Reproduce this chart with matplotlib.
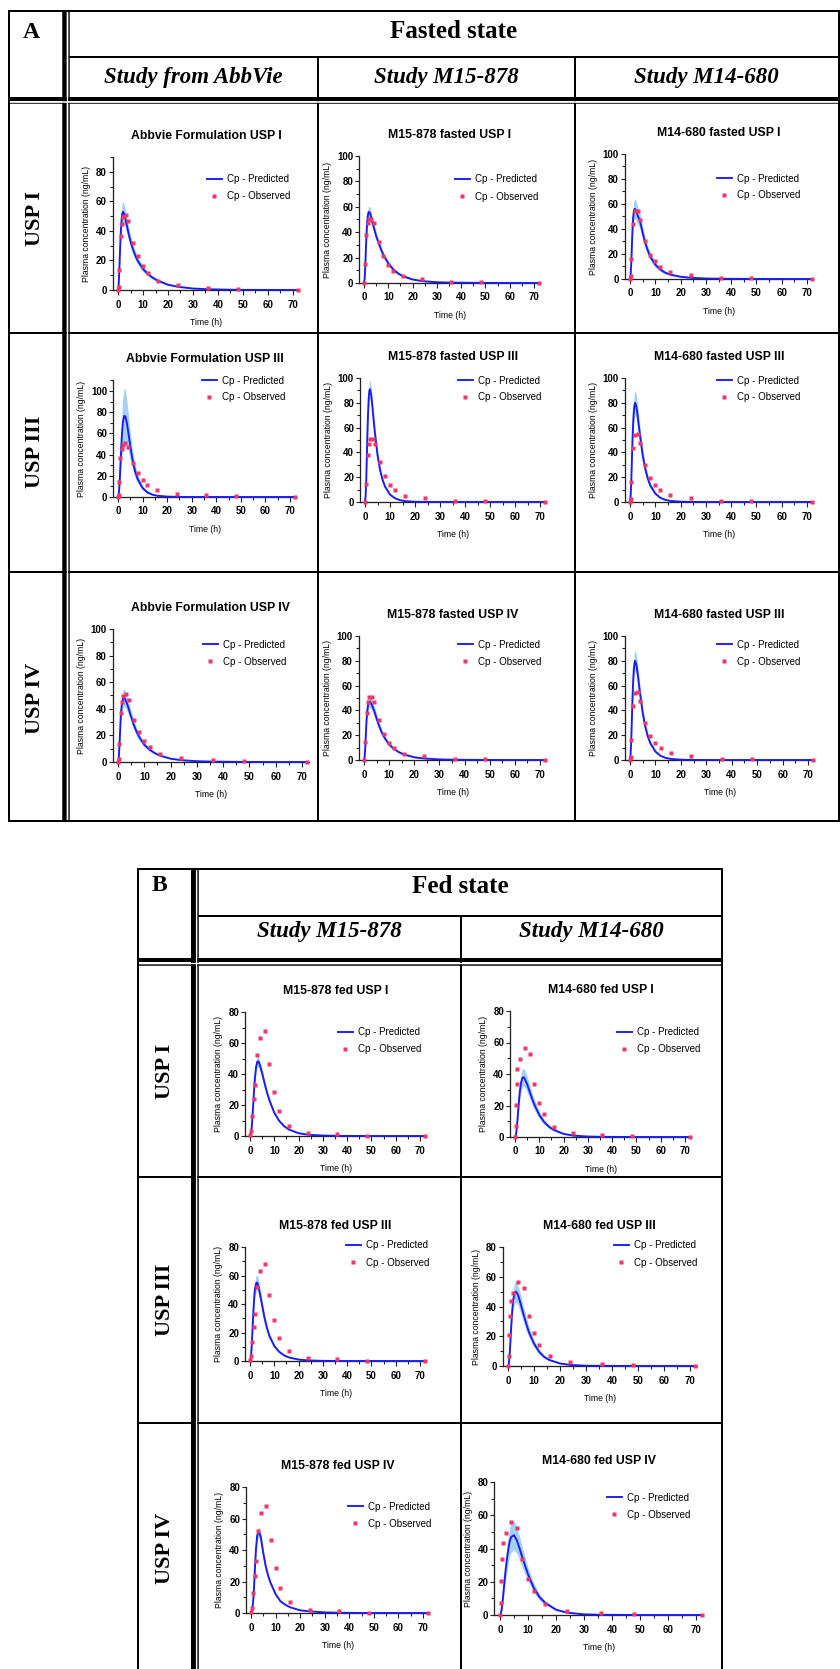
import numpy as np
import matplotlib.pyplot as plt
from matplotlib.ticker import MultipleLocator

W, H, DPI = 840, 1669, 100
PX = 72.0 / DPI  # points per pixel

BLUE = '#1c1cf2'
BAND = '#a3d0f3'
PINK = '#ee3868'
SANS = 'Liberation Sans'
SERIF = 'Liberation Serif'

# ---- observed plasma concentrations (ng/mL) ----
t_obs_abbvie = [0, 0.25, 0.5, 1, 1.5, 2, 3, 4, 6, 8, 10, 12, 16, 24, 36, 48, 72]
cp_obs_abbvie = [0, 2, 13.7, 36.7, 45, 49.4, 51, 46.8, 31.7, 22.8, 16, 11.2, 6.2, 3.3, 1.6, 0.7, 0]
t_obs_m15_fasted = [0, 0.5, 1, 1.5, 2, 3, 4, 6, 8, 10, 12, 16, 24, 36, 48, 72]
cp_obs_m15_fasted = [0, 14.7, 37.5, 47, 50.5, 50.5, 47, 32, 21, 14, 9.5, 5.2, 3, 0.8, 0.8, 0]
t_obs_m14_fasted = [0, 0.25, 0.5, 1, 2, 3, 4, 6, 8, 10, 12, 16, 24, 36, 48, 72]
cp_obs_m14_fasted = [0, 2.1, 16.2, 43.9, 54, 54.5, 47.3, 30, 19.4, 14.1, 9.8, 5.3, 2.9, 0.5, 0.5, 0]
t_obs_m15_fed = [0, 0.5, 1, 1.5, 2, 3, 4, 6, 8, 10, 12, 16, 24, 36, 48, 72]
cp_obs_m15_fed = [0.4, 3.4, 13, 23.6, 33, 52, 63.4, 67.8, 46.3, 28.6, 16, 6.7, 2.1, 1.3, 0.2, 0.2]
t_obs_m14_fed = [0, 0.25, 0.5, 0.75, 1, 2, 4, 6, 8, 10, 12, 16, 24, 36, 48, 72]
cp_obs_m14_fed = [0, 7, 20.6, 33.4, 43.4, 49.4, 56.2, 52.6, 33.4, 21.9, 14.3, 6.5, 2.5, 1.2, 0.5, 0]

# ---- simulated profiles (mean and half-width of the prediction band) ----
t_pred = [0, 0.25, 0.5, 0.75, 1, 1.25, 1.5, 1.75, 2, 2.5, 3, 3.5, 4, 5, 6, 7, 8,
          10, 12, 14, 16, 20, 24, 30, 36, 48, 60, 72]

pred_abbvie_1 = [0, 3, 12, 24, 35, 43, 49, 52, 53, 51.5, 48, 44, 40, 33, 27.5, 23, 19.5,
                 14.3, 10.8, 8.2, 6.3, 3.6, 2.2, 1, 0.5, 0.1, 0.05, 0]
band_abbvie_1 = [0, 0.5, 1.5, 3, 4.5, 5.5, 6.5, 7, 7, 6.5, 6, 5.5, 5, 4, 3.5, 3, 2.5,
                 2, 1.5, 1.2, 1, 0.6, 0.4, 0.2, 0.1, 0, 0, 0]
pred_m15f_1 = [0, 3, 12, 25, 37, 46, 52, 55, 56, 55, 51.5, 47.5, 44, 37, 31.5, 26.5, 22,
               15.5, 10.8, 7.6, 5.4, 2.8, 1.5, 0.6, 0.3, 0.1, 0, 0]
band_m15f_1 = [0, 0.5, 1.5, 2.5, 3.5, 4, 4.5, 4.5, 4.5, 4.5, 4, 3.8, 3.5, 3, 2.8, 2.5, 2.2,
               1.8, 1.4, 1.1, 0.9, 0.5, 0.3, 0.1, 0, 0, 0, 0]
pred_m14f_1 = [0, 3, 13, 27, 40, 49, 54, 56, 56, 54, 51, 48.5, 46, 37, 29, 23, 18,
               11.5, 7.5, 5, 3.5, 1.8, 1, 0.4, 0.2, 0.05, 0, 0]
band_m14f_1 = [0, 0.7, 2, 4, 5.5, 6.5, 7.5, 8, 8, 7.5, 7, 6.5, 6, 5, 4.3, 3.6, 3,
               2.2, 1.6, 1.2, 0.9, 0.5, 0.3, 0.1, 0, 0, 0, 0]
pred_abbvie_3 = [0, 2, 8, 18, 31, 44, 55, 64, 71, 76.5, 76, 71, 64, 48, 34, 24, 17,
                 8.5, 4.3, 2.2, 1.2, 0.4, 0.1, 0, 0, 0, 0, 0]
band_abbvie_3 = [0, 1, 4, 8, 12, 16, 19, 22, 24, 26, 25, 22, 19, 13, 9, 6, 4,
                 2, 1, 0.5, 0.3, 0.1, 0, 0, 0, 0, 0, 0]
pred_m15f_3 = [0, 5, 18, 38, 58, 73, 84, 90, 91, 86, 76, 65, 55, 38, 26, 18, 12.5,
               6, 3, 1.5, 0.7, 0.2, 0.05, 0, 0, 0, 0, 0]
band_m15f_3 = [0, 0.5, 2, 4, 5, 6, 6.5, 7, 7, 6.5, 6, 5.5, 5, 4, 3, 2.2, 1.6,
               0.8, 0.4, 0.2, 0.1, 0, 0, 0, 0, 0, 0, 0]
pred_m14f_3 = [0, 5, 17, 34, 51, 64, 73, 78, 80, 77, 70, 61, 53, 38, 27, 19, 13.5,
               6.8, 3.4, 1.7, 0.9, 0.25, 0.07, 0, 0, 0, 0, 0]
band_m14f_3 = [0, 0.7, 2.5, 5, 7, 8.5, 9.5, 10, 10, 9.5, 9, 8, 7, 5.5, 4, 3, 2.2,
               1.2, 0.6, 0.3, 0.15, 0, 0, 0, 0, 0, 0, 0]
pred_abbvie_4 = [0, 2.5, 10, 21, 32, 39.5, 44, 46.5, 48, 48, 46, 43.5, 40.6, 34, 28, 23, 19,
                 13, 9.3, 6.7, 4.8, 2.5, 1.4, 0.6, 0.3, 0.05, 0, 0]
band_abbvie_4 = [0, 0.5, 1.5, 3, 4.5, 5.5, 6, 6.5, 6.5, 6.5, 6, 5.5, 5, 4.3, 3.6, 3, 2.5,
                 1.8, 1.3, 1, 0.7, 0.4, 0.2, 0.1, 0, 0, 0, 0]
pred_m15f_4 = [0, 2.5, 10, 21, 31.5, 38.5, 43, 45.5, 47, 47, 45, 42.5, 40, 33.5, 27.5, 22.5, 18.5,
               12.5, 8.8, 6.2, 4.4, 2.2, 1.2, 0.5, 0.2, 0.05, 0, 0]
band_m15f_4 = [0, 0.4, 1.2, 2.5, 3.5, 4.3, 4.8, 5, 5, 5, 4.8, 4.5, 4.2, 3.6, 3, 2.5, 2.1,
               1.5, 1.1, 0.8, 0.6, 0.3, 0.2, 0.1, 0, 0, 0, 0]
pred_m14f_4 = [0, 5, 17, 34, 51, 64, 73, 78, 80, 77, 70, 61, 53, 38, 27, 19, 13.5,
               6.8, 3.4, 1.7, 0.9, 0.25, 0.07, 0, 0, 0, 0, 0]
band_m14f_4 = [0, 0.6, 2.2, 4.5, 6, 7.5, 8, 8.5, 8.5, 8, 7.5, 7, 6, 4.8, 3.6, 2.7, 2,
               1.1, 0.5, 0.3, 0.1, 0, 0, 0, 0, 0, 0, 0]
pred_m15fed_1 = [0, 0.5, 2.5, 6.5, 12, 18.5, 25, 31.5, 37, 44.5, 48, 48, 46, 40.5, 34, 28, 23,
                 15, 9.8, 6.4, 4.2, 1.8, 0.8, 0.3, 0.1, 0, 0, 0]
band_m15fed_1 = [0, 0.1, 0.4, 1, 1.6, 2.2, 2.7, 3, 3.3, 3.5, 3.5, 3.4, 3.2, 2.8, 2.4, 2, 1.6,
                 1.1, 0.7, 0.5, 0.3, 0.1, 0, 0, 0, 0, 0, 0]
pred_m14fed_1 = [0, 0.5, 2.5, 6, 10.5, 15.5, 20.5, 25, 29, 34.5, 37.5, 38, 37, 33.5, 29, 24.5, 20.5,
                 14, 9.5, 6.5, 4.5, 2, 0.9, 0.3, 0.1, 0, 0, 0]
band_m14fed_1 = [0, 0.2, 0.8, 1.6, 2.5, 3.3, 4, 4.6, 5, 5.5, 5.7, 5.7, 5.5, 5, 4.4, 3.8, 3.2,
                 2.3, 1.6, 1.1, 0.8, 0.4, 0.2, 0, 0, 0, 0, 0]
pred_m15fed_3 = [0, 1, 5, 12, 21, 30, 38, 45, 50, 54.5, 55, 52, 48, 39, 30, 23, 17.5,
                 10.5, 6.5, 4, 2.5, 1, 0.4, 0.1, 0, 0, 0, 0]
band_m15fed_3 = [0, 0.2, 0.8, 1.8, 2.8, 3.6, 4.2, 4.7, 5, 5.3, 5.2, 5, 4.6, 3.8, 3, 2.4, 1.9,
                 1.2, 0.8, 0.5, 0.3, 0.1, 0, 0, 0, 0, 0, 0]
pred_m14fed_3 = [0, 1, 4.5, 11, 19, 27, 34, 40, 44.5, 49, 50, 49, 47, 41, 34.5, 28.5, 23,
                 15, 9.5, 6, 4, 1.7, 0.7, 0.2, 0.1, 0, 0, 0]
band_m14fed_3 = [0, 0.3, 1, 2, 3.2, 4.3, 5.2, 5.9, 6.4, 7, 7.2, 7, 6.8, 6, 5.2, 4.4, 3.6,
                 2.4, 1.6, 1.1, 0.7, 0.3, 0.1, 0, 0, 0, 0, 0]
pred_m15fed_4 = [0, 0.3, 2, 5.5, 10, 17, 25, 33, 40, 49, 51.5, 50.5, 48, 38, 29.5, 23.5, 19,
                 12, 7.4, 5.2, 3.6, 1.7, 1, 0.4, 0.15, 0, 0, 0]
band_m15fed_4 = [0, 0.1, 0.4, 1, 1.6, 2.2, 2.7, 3, 3.2, 3.4, 3.4, 3.2, 3, 2.5, 2, 1.6, 1.3,
                 0.8, 0.5, 0.3, 0.2, 0.1, 0, 0, 0, 0, 0, 0]
pred_m14fed_4 = [0, 0.5, 2.5, 5.5, 9.5, 14, 18.5, 23, 27, 34, 40, 44.5, 47, 48, 45, 40, 34.5,
                 24.5, 16.5, 11, 7.5, 3.2, 1.4, 0.4, 0.15, 0, 0, 0]
band_m14fed_4 = [0, 0.3, 1.2, 2.2, 3.3, 4.3, 5.2, 6, 6.6, 7.6, 8.3, 8.7, 9, 8.8, 8, 7, 6,
                 4.2, 2.9, 2, 1.3, 0.6, 0.3, 0.1, 0, 0, 0, 0]

titles = [
    'Abbvie Formulation USP I', 'M15-878 fasted USP I', 'M14-680 fasted USP I',
    'Abbvie Formulation USP III', 'M15-878 fasted USP III', 'M14-680 fasted USP III',
    'Abbvie Formulation USP IV', 'M15-878 fasted USP IV', 'M14-680 fasted USP III',
    'M15-878 fed USP I', 'M14-680 fed USP I',
    'M15-878 fed USP III', 'M14-680 fed USP III',
    'M15-878 fed USP IV', 'M14-680 fed USP IV',
]
series = [
    (t_obs_abbvie, cp_obs_abbvie, pred_abbvie_1, band_abbvie_1),
    (t_obs_m15_fasted, cp_obs_m15_fasted, pred_m15f_1, band_m15f_1),
    (t_obs_m14_fasted, cp_obs_m14_fasted, pred_m14f_1, band_m14f_1),
    (t_obs_abbvie, cp_obs_abbvie, pred_abbvie_3, band_abbvie_3),
    (t_obs_m15_fasted, cp_obs_m15_fasted, pred_m15f_3, band_m15f_3),
    (t_obs_m14_fasted, cp_obs_m14_fasted, pred_m14f_3, band_m14f_3),
    (t_obs_abbvie, cp_obs_abbvie, pred_abbvie_4, band_abbvie_4),
    (t_obs_m15_fasted, cp_obs_m15_fasted, pred_m15f_4, band_m15f_4),
    (t_obs_m14_fasted, cp_obs_m14_fasted, pred_m14f_4, band_m14f_4),
    (t_obs_m15_fed, cp_obs_m15_fed, pred_m15fed_1, band_m15fed_1),
    (t_obs_m14_fed, cp_obs_m14_fed, pred_m14fed_1, band_m14fed_1),
    (t_obs_m15_fed, cp_obs_m15_fed, pred_m15fed_3, band_m15fed_3),
    (t_obs_m14_fed, cp_obs_m14_fed, pred_m14fed_3, band_m14fed_3),
    (t_obs_m15_fed, cp_obs_m15_fed, pred_m15fed_4, band_m15fed_4),
    (t_obs_m14_fed, cp_obs_m14_fed, pred_m14fed_4, band_m14fed_4),
]
y_max = [90, 100, 100, 110, 100, 100, 100, 100, 100, 80, 80, 80, 80, 80, 80]

# pixel geometry: x of t=0, x of t=70, y of 0, y of reference tick, its value,
# legend handle left x and legend middle y
geom = [
    (118, 293, 290, 172, 80, 207, 187.5),
    (364, 534, 283, 156, 100, 455, 188),
    (630, 807, 279, 154, 100, 717, 187),
    (118, 290, 497, 391, 100, 202, 389),
    (365, 540, 502, 378, 100, 458, 389),
    (630, 807, 502, 378, 100, 717, 389),
    (118, 302, 762, 629, 100, 203, 653),
    (364, 540, 760, 636, 100, 458, 653),
    (630, 808, 760, 636, 100, 717, 653),
    (250, 420, 1136, 1012, 80, 338, 1040.5),
    (515, 685, 1137, 1011, 80, 617, 1040.5),
    (250, 420, 1361, 1247, 80, 346, 1254),
    (508, 690, 1366, 1247, 80, 614, 1254),
    (251, 423, 1613, 1487, 80, 348, 1515),
    (500, 696, 1615, 1482, 80, 607, 1506),
]
XMIN, XMAX = -2, 72.5

plt.rcParams['font.family'] = [SANS, 'DejaVu Sans']
plt.rcParams['font.weight'] = 'bold'

fig = plt.figure(figsize=(W / DPI, H / DPI), dpi=DPI)

# ---- table grid drawn in pixel coordinates ----
tab = fig.add_axes([0, 0, 1, 1])
tab.set_xlim(0, W)
tab.set_ylim(H, 0)
tab.axis('off')


def hline(y, x1, x2, w, c='black'):
    tab.plot([x1, x2], [y, y], color=c, lw=w * PX, solid_capstyle='butt')


def vline(x, y1, y2, w, c='black'):
    tab.plot([x, x], [y1, y2], color=c, lw=w * PX, solid_capstyle='butt')


# part A (fasted)
aL, aR, aT, aB = 8.5, 838.5, 11, 821
vline(64, aT, aB, 4.5)
vline(69, aT, aB, 1.5)
vline(318, 57, aB, 2)
vline(575, 57, aB, 2)
hline(57, 69, aR, 2)
hline(98.7, aL, aR, 4)
hline(103.5, aL, aR, 1.5)
hline(333, aL, aR, 2)
hline(572, aL, aR, 2)
hline(101.6, aL, aR, 1.6, 'white')
vline(66.9, aT + 1, aB - 1, 1.3, 'white')
vline(aL, aT, aB, 2)
vline(aR, aT, aB, 2)
hline(aT, aL - 1, aR + 1, 2)
hline(aB, aL - 1, aR + 1, 2)

# part B (fed)
bL, bR, bT, bB = 137.5, 722, 869, 1690
vline(192.5, bT, bB, 5)
vline(197.7, bT, bB, 1.5)
vline(461, 916, bB, 2)
hline(916, 198, bR, 2)
hline(960.3, bL, bR, 4)
hline(965.2, bL, bR, 1.5)
hline(1177, bL, bR, 2)
hline(1423, bL, bR, 2)
hline(962.9, bL, bR, 1.3, 'white')
vline(195.8, bT + 1, bB, 1.2, 'white')
vline(bL, bT, bB, 2)
vline(bR, bT, bB, 2)
hline(bT, bL - 1, bR + 1, 2)

serif_b = dict(family=SERIF, weight='bold', ha='center', va='center')
tab.text(31, 32, 'A', fontsize=17, **serif_b)
tab.text(453.5, 31, 'Fasted state', fontsize=18, **serif_b)
for x, s in [(193.5, 'Study from AbbVie'), (446.5, 'Study M15-878'), (706.5, 'Study M14-680')]:
    tab.text(x, 77, s, fontsize=16.5, style='italic', **serif_b)
for y, s in [(218, 'USP I'), (452, 'USP III'), (698, 'USP IV')]:
    tab.text(35.5, y, s, fontsize=16, rotation=90, **serif_b)

tab.text(159.5, 885, 'B', fontsize=17, **serif_b)
tab.text(460, 886, 'Fed state', fontsize=18, **serif_b)
for x, s in [(329.5, 'Study M15-878'), (591.5, 'Study M14-680')]:
    tab.text(x, 931, s, fontsize=16.5, style='italic', **serif_b)
for y, s in [(1071, 'USP I'), (1300, 'USP III'), (1548, 'USP IV')]:
    tab.text(164.5, y, s, fontsize=16, rotation=90, **serif_b)

# ---- concentration-time panels ----
for title, (t_obs, cp_obs, pred, band), ytop, g in zip(titles, series, y_max, geom):
    x0, x70, y0, yref, yref_val, lx, ly = g
    sx = (x70 - x0) / 70.0
    sy = (y0 - yref) / yref_val
    left = x0 + XMIN * sx
    right = x0 + XMAX * sx
    top = y0 - ytop * sy
    ax = fig.add_axes([left / W, 1 - y0 / H, (right - left) / W, (y0 - top) / H])
    ax.patch.set_visible(False)

    pred = np.array(pred)
    band = np.array(band)
    ax.fill_between(t_pred, np.clip(pred - band, 0, None), pred + band,
                    color=BAND, lw=0, zorder=2)
    line, = ax.plot(t_pred, pred, color=BLUE, lw=1.9 * PX, zorder=3, clip_on=False)
    pts, = ax.plot(t_obs, cp_obs, 's', ms=4.6 * PX, color=PINK, mec='none',
                   zorder=4, clip_on=False)

    ax.set_xlim(XMIN, XMAX)
    ax.set_ylim(0, ytop)
    ax.set_xticks(range(0, 71, 10))
    ax.set_yticks(range(0, ytop + 1, 20))
    ax.xaxis.set_minor_locator(MultipleLocator(5))
    ax.yaxis.set_minor_locator(MultipleLocator(10))
    for s in ['top', 'right']:
        ax.spines[s].set_visible(False)
    for s in ['left', 'bottom']:
        ax.spines[s].set_color('#222222')
        ax.spines[s].set_linewidth(1.3 * PX)
    ax.tick_params(which='major', length=4.5 * PX, width=1.1 * PX, color='#222222',
                   labelsize=7)
    ax.tick_params(which='minor', length=2.8 * PX, width=1.1 * PX, color='#222222')
    ax.tick_params(axis='x', which='major', pad=5 * PX)
    ax.tick_params(axis='y', which='major', pad=1.5 * PX)

    ax.set_xlabel('Time (h)', fontsize=6.2, labelpad=6)
    ax.set_ylabel('Plasma concentration (ng/mL)', fontsize=6.2, labelpad=3.5)
    ax.annotate(title, xy=(0.5, 1), xycoords='axes fraction', xytext=(0, 21 * PX),
                textcoords='offset points', ha='center', va='center', fontsize=8.8)

    ax.legend([line, pts], ['Cp - Predicted', 'Cp - Observed'], loc='center left',
              bbox_to_anchor=(lx / W, 1 - ly / H), bbox_transform=fig.transFigure,
              frameon=False, borderpad=0, borderaxespad=0, handlelength=1.5,
              handletextpad=0.6, labelspacing=0.72, prop={'size': 7, 'weight': 'normal'})

fig.savefig('out.png', dpi=DPI)
